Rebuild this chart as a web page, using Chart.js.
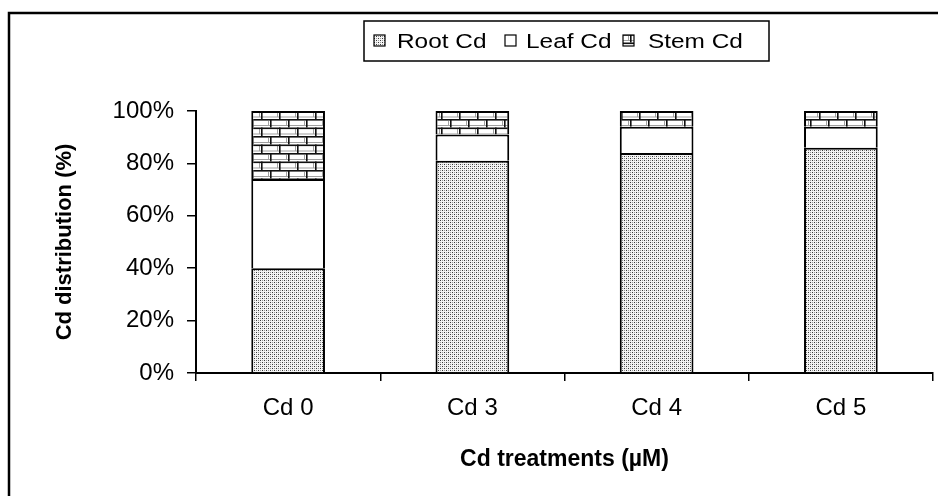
<!DOCTYPE html>
<html>
<head>
<meta charset="utf-8">
<script src="https://cdn.jsdelivr.net/npm/chart.js@4.4.1/dist/chart.umd.min.js"></script>
<style>
  html, body { margin: 0; padding: 0; background: #fff; }
  #wrap { width: 938px; height: 496px; position: relative; }
</style>
</head>
<body>
<div id="wrap"><canvas id="cdChart"></canvas></div>
<script>
const categories = ['Cd 0', 'Cd 3', 'Cd 4', 'Cd 5'];
const rootCd = [40, 81, 84, 86];
const leafCd = [34, 10, 10, 8];
const stemCd = [26, 9, 6, 6];
const yTicks = [0, 20, 40, 60, 80, 100];

// fill patterns, roughly like the old Excel ones
function dotPattern() {
    const c = document.createElement('canvas');
    c.width = 4; c.height = 4;
    const g = c.getContext('2d');
    g.fillStyle = '#f4f4f4';
    g.fillRect(0, 0, 4, 4);
    g.fillStyle = '#3a3a3a';
    g.fillRect(0, 0, 1, 1);
    g.fillRect(2, 2, 1, 1);
    g.fillStyle = '#9a9a9a';
    g.fillRect(2, 0, 1, 1);
    g.fillRect(0, 2, 1, 1);
    return g.createPattern(c, 'repeat');
}

function brickPattern() {
    const c = document.createElement('canvas');
    c.width = 18; c.height = 17;
    const g = c.getContext('2d');
    g.fillStyle = '#fff';
    g.fillRect(0, 0, 18, 17);
    // shading on the lower edge of each brick
    g.fillStyle = '#a0a0a0';
    g.fillRect(0, 6, 18, 1);
    g.fillRect(0, 14.5, 18, 1);
    g.fillRect(16, 2, 1, 5);
    g.fillRect(7, 10, 1, 5);
    g.fillStyle = '#111';
    g.fillRect(0, 0, 18, 1.6);
    g.fillRect(0, 8.5, 18, 1.6);
    g.fillRect(0, 0, 1.6, 8.5);
    g.fillRect(9, 8.5, 1.6, 8.5);
    return g.createPattern(c, 'repeat');
}

const ctx = document.getElementById('cdChart').getContext('2d');
const rootFill = dotPattern();
const stemFill = brickPattern();

const frameAndLegend = {
    id: 'frameAndLegend',
    afterDraw: function (chart) {
        const g = chart.ctx;
        g.save();
        // outer frame (only top and left visible in the crop)
        g.strokeStyle = '#000';
        g.lineWidth = 2.5;
        g.beginPath();
        g.moveTo(9, 496);
        g.lineTo(9, 13);
        g.lineTo(938, 13);
        g.stroke();

        // legend box
        g.lineWidth = 1.5;
        g.strokeRect(364, 21, 405, 40);
        const items = chart.data.datasets;
        const iconX = [374, 505, 623];
        const textX = [397, 526, 648];
        g.font = '20px "Liberation Sans", Arial, sans-serif';
        g.textBaseline = 'alphabetic';
        items.forEach(function (ds, i) {
            g.fillStyle = ds.backgroundColor;
            g.fillRect(iconX[i], 35, 11, 11);
            g.lineWidth = 1.2;
            g.strokeStyle = '#000';
            g.strokeRect(iconX[i], 35, 11, 11);
            g.save();
            g.translate(textX[i], 48);
            g.scale(1.22, 1);
            g.fillStyle = '#000';
            g.fillText(ds.label, 0, 0);
            g.restore();
        });
        g.restore();
    }
};

new Chart(ctx, {
    type: 'bar',
    data: {
        labels: categories,
        datasets: [
            { label: 'Root Cd', data: rootCd, backgroundColor: rootFill },
            { label: 'Leaf Cd', data: leafCd, backgroundColor: '#ffffff' },
            { label: 'Stem Cd', data: stemCd, backgroundColor: stemFill }
        ]
    },
    options: {
        responsive: true,
        maintainAspectRatio: false,
        animation: false,
        layout: { padding: { top: 111, right: 5, left: 0, bottom: 0 } },
        datasets: {
            bar: {
                borderColor: '#000',
                borderWidth: { top: 2, right: 2, bottom: 0, left: 2 },
                borderSkipped: false,
                categoryPercentage: 1,
                barPercentage: 0.4
            }
        },
        plugins: {
            legend: { display: false },
            tooltip: { enabled: false }
        },
        scales: {
            x: {
                stacked: true,
                border: { color: '#000', width: 2 },
                grid: {
                    drawOnChartArea: false,
                    color: '#000',
                    lineWidth: 1.5,
                    tickLength: 8,
                    offset: true
                },
                ticks: {
                    color: '#000',
                    padding: 13,
                    maxRotation: 0,
                    font: { family: '"Liberation Sans", Arial, sans-serif', size: 24 }
                },
                title: {
                    display: true,
                    text: 'Cd treatments (µM)',
                    color: '#000',
                    padding: { top: 0, bottom: 23 },
                    font: { family: '"Liberation Sans Narrow", "Liberation Sans", Arial, sans-serif', size: 23, weight: 'bold' }
                },
                afterFit: function (scale) { scale.height = 123; }
            },
            y: {
                stacked: true,
                min: 0,
                max: 100,
                border: { color: '#000', width: 2 },
                grid: {
                    drawOnChartArea: false,
                    color: '#000',
                    lineWidth: 1.5,
                    tickLength: 9
                },
                afterBuildTicks: function (scale) {
                    scale.ticks = yTicks.map(function (v) { return { value: v }; });
                },
                ticks: {
                    color: '#000',
                    padding: 13,
                    callback: function (v) { return v + '%'; },
                    font: { family: '"Liberation Sans", Arial, sans-serif', size: 24 }
                },
                title: {
                    display: true,
                    text: 'Cd distribution (%)',
                    color: '#000',
                    padding: { top: 52, bottom: 0 },
                    font: { family: '"Liberation Sans Narrow", "Liberation Sans", Arial, sans-serif', size: 22, weight: 'bold' }
                },
                afterFit: function (scale) { scale.width = 196; }
            }
        }
    },
    plugins: [frameAndLegend]
});
</script>
</body>
</html>
